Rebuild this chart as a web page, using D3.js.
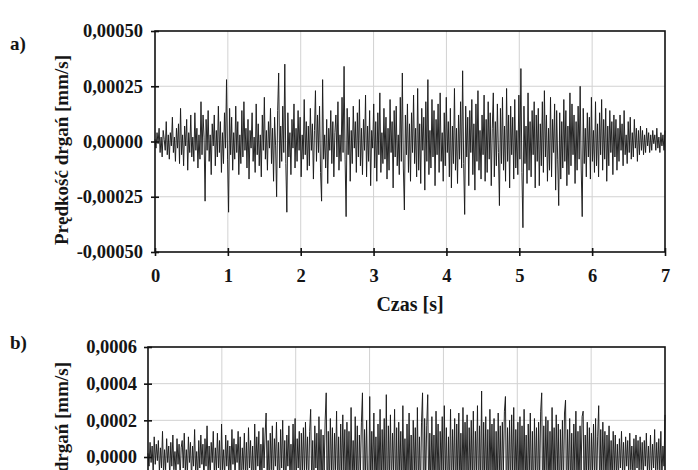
<!DOCTYPE html>
<html><head><meta charset="utf-8">
<script src="https://cdn.jsdelivr.net/npm/d3@7"></script>
<style>
body{margin:0;background:#fff}
text{font-family:"Liberation Serif","Times New Roman",serif;font-weight:bold;fill:#151515}
</style>
</head><body>
<svg id="c" width="698" height="470"></svg>
<script>
// ---- data ----
const timeRange = [0, 7];                // s
const xTicks = [0, 1, 2, 3, 4, 5, 6, 7];
const valueUnit = 1e-5;                  // values below are in 1e-5 mm/s
const velocityA = [
 1,-3,4,-1,6,-5,2,-7,5,1,-4,9,-6,3,-8,4,-2,11,-5,2,-9,6,-3,8,-10,
 15,-6,3,-11,7,-2,10,-13,4,-5,12,-7,2,-9,13,-4,6,-12,3,-8,18,-6,12,2,-27,
 10,-4,14,-9,3,-15,8,-2,12,-11,5,-7,16,-5,9,-14,4,-10,13,-3,28,-8,-32,15,-6,
 11,-13,4,-8,16,-5,9,-15,3,-10,14,-7,18,-4,6,-12,10,-17,5,-3,13,-9,2,-14,17,
 -6,8,-11,3,-16,12,-4,20,-8,5,-13,9,-3,15,-10,6,-18,11,-2,-25,14,31,-12,7,-9,
 16,-5,35,-10,-32,13,-7,4,-15,10,-3,17,-12,6,-9,14,-4,11,-16,3,-8,19,-6,9,-13,
 7,-11,15,-4,8,-17,5,23,-9,12,-5,16,-14,-27,28,-8,3,-12,10,-19,6,-4,14,-10,9,
 -16,4,12,-7,18,-13,3,-9,20,-5,34,-8,-34,15,-6,11,-18,5,-10,16,-3,9,-14,13,-7,
 19,-11,6,-15,10,-4,21,-16,7,-9,14,-20,5,-3,17,-12,9,-18,13,-6,22,-14,4,-10,15,
 -8,11,-17,6,-13,19,-5,9,-21,14,-7,16,-11,3,-15,20,-9,31,-12,-31,12,-6,17,-14,8,
 -18,13,-5,21,-10,6,-16,24,-13,8,-19,15,-4,11,-22,18,-9,28,-15,5,-12,19,-7,14,-20,
 10,-6,17,-14,22,-9,4,-18,13,-11,20,-5,9,-16,15,-21,7,-10,24,-13,6,-19,12,-8,18,
 -12,32,-10,-33,16,-7,11,-20,14,-5,19,-15,8,-22,17,-9,23,-13,5,-17,12,-6,21,-18,10,
 -14,18,-8,13,-20,6,22,-16,9,-11,17,-5,-29,15,-10,20,-13,7,-18,24,-9,12,-21,16,-6,
 11,-17,19,-12,5,-15,21,-8,33,-14,-39,16,-10,7,-19,22,-13,9,-16,14,-6,18,-21,12,-9,
 15,-20,8,-11,18,-14,23,-7,12,-18,6,-13,20,-16,10,-5,17,-22,14,-8,-29,13,-17,9,-12,
 19,-9,14,-20,7,-15,22,-11,17,-6,12,-19,9,-13,16,-8,25,-12,-34,15,-10,6,-16,13,-7,
 11,-17,20,-9,5,-14,18,-11,8,-16,13,-6,19,-13,10,-8,15,-18,7,-11,14,-5,9,-15,12,
 -7,10,-13,6,-9,12,-4,8,-11,14,-6,3,-10,9,-5,11,-8,4,-7,10,-3,6,-9,5,-6,
 7,-4,5,-6,3,-5,6,-2,4,-5,3,-4,5,-1,3,-4,6,-3,2,-5,4,-2,3,-4,5
];
const velocityB = [
 2,-5,8,-3,6,-9,11,-4,7,-2,9,-8,5,-6,14,-10,4,-7,10,-3,6,-11,8,-5,12,
 -7,3,-9,10,-4,7,-12,5,9,-6,13,-8,4,-10,11,-3,8,-13,6,-5,15,-9,3,-11,9,
 -6,12,-4,7,-14,10,-5,17,-9,6,-12,8,-3,14,-10,5,-8,13,-6,9,-15,18,-7,4,-11,
 12,-5,9,-13,6,-8,15,-4,10,-12,7,-3,14,-9,11,-16,5,-7,13,-10,8,-14,16,-6,9,
 -12,6,-15,18,-8,11,-5,14,-17,7,-10,16,-6,12,24,-11,9,-18,13,-7,17,-14,10,-5,19,
 -12,8,-16,15,-6,20,-13,9,-19,12,-5,17,-15,7,-11,18,-9,21,-16,10,-6,14,-20,13,-8,
 16,-12,19,-7,11,-18,14,26,-15,9,-21,17,-6,13,-19,22,-10,15,-24,12,-8,20,35,-27,14,
 -18,21,-9,16,-22,13,-7,25,-16,11,-20,18,-12,23,-8,15,-25,19,-10,14,-21,27,-13,9,-17,
 22,-14,17,-23,12,-8,19,35,-26,15,-11,20,-16,-22,33,-19,14,-9,24,-17,11,-21,18,-13,26,
 -20,15,-10,21,-24,34,-28,17,-12,23,-18,13,-8,26,-21,16,-25,19,-11,14,-20,28,-15,10,-22,
 18,-13,24,-19,12,-26,20,-9,16,-23,27,-15,11,-20,19,35,-29,21,-14,17,34,-27,13,-18,22,
 -16,12,-21,25,-10,18,-24,14,-8,22,-19,28,-13,16,-23,11,-17,26,-20,15,-9,21,-25,18,-12,
 24,-18,13,-22,27,-14,19,-10,23,-26,16,-12,20,-17,25,-21,14,-9,28,-23,17,-15,36,-30,19,
 -13,22,-19,15,-24,26,-11,18,-16,21,-27,14,-20,24,-12,17,-22,19,-8,25,33,-28,16,-14,20,
 -18,23,-12,27,-21,15,-9,19,-25,22,-14,17,-20,26,-16,12,-23,18,-11,24,-19,14,-26,21,-10,
 16,-22,19,-13,25,35,-30,17,-15,22,-11,20,-24,14,-18,27,-12,16,-21,23,-9,18,-25,15,-13,
 20,-17,24,31,-26,15,-12,21,-19,13,-22,18,-10,25,-16,14,-20,17,-8,22,25,-23,12,-15,19,
 -11,16,-20,13,-9,18,-14,21,-17,11,28,-22,15,-12,19,-8,14,-18,12,-10,17,-13,9,-15,14,
 -8,12,-11,7,-13,10,-6,14,-9,8,-12,11,-5,9,-10,13,-7,6,-11,10,-8,12,-6,9,-10,
 11,-7,8,-12,9,-5,13,-8,6,-10,12,-9,7,-6,15,-11,8,-7,10,-9,14,-12,6,-5,23
];
const yTicksA = [-0.0005, -0.00025, 0, 0.00025, 0.0005];
const yTicksB = [-0.0006, -0.0004, -0.0002, 0, 0.0002, 0.0004, 0.0006];
const panelNames = ["a)", "b)"];
const yTitle = "Prędkość drgań [mm/s]";
const xTitle = "Czas [s]";

// ---- drawing ----
const W = 698, H = 470;
const svg = d3.select("#c");
svg.append("rect").attr("width",W).attr("height",H).attr("fill","#fff");
const loc = d3.formatLocale({decimal:",", thousands:" ", grouping:[3], currency:["",""], minus:"-"});

function panel(cfg){
  const x = d3.scaleLinear().domain(timeRange).range([cfg.left, cfg.right]);
  const y = d3.scaleLinear().domain(cfg.yDomain).range([cfg.bottom, cfg.top]);
  const g = svg.append("g");
  // grid
  g.append("g").selectAll("line").data(xTicks.slice(1,-1)).join("line")
    .attr("x1",d=>x(d)).attr("x2",d=>x(d)).attr("y1",cfg.top).attr("y2",cfg.bottom)
    .attr("stroke","#d2d2d2").attr("stroke-width",1);
  g.append("g").selectAll("line").data(cfg.yTicks.slice(1,-1)).join("line")
    .attr("x1",cfg.left).attr("x2",cfg.right).attr("y1",d=>y(d)).attr("y2",d=>y(d))
    .attr("stroke","#d2d2d2").attr("stroke-width",1);
  // signal
  const n = cfg.values.length;
  const pts = cfg.values.map((v,i)=>[timeRange[0] + i*(timeRange[1]-timeRange[0])/(n-1), v*valueUnit]);
  g.append("path").datum(pts)
    .attr("d", d3.line().x(d=>x(d[0])).y(d=>y(d[1])))
    .attr("fill","none").attr("stroke","#1a1a1a").attr("stroke-width",0.95).attr("stroke-linejoin","round");
  // frame
  g.append("rect").attr("x",cfg.left).attr("y",cfg.top)
    .attr("width",cfg.right-cfg.left).attr("height",cfg.bottom-cfg.top)
    .attr("fill","none").attr("stroke","#111").attr("stroke-width",1.6);
  // axes (only ticks that land inside the window)
  const visY = cfg.yTicks.filter(d=>y(d) < H - 8);
  const ya = g.append("g").attr("transform",`translate(${cfg.left},0)`)
    .call(d3.axisLeft(y).tickValues(visY).tickFormat(loc.format(cfg.fmt)).tickSize(4).tickPadding(cfg.yPad));
  ya.select(".domain").remove();
  ya.selectAll(".tick line").attr("x1",4).attr("x2",-4).attr("stroke","#111").attr("stroke-width",1.6);
  ya.selectAll(".tick text").attr("font-size",18.5).attr("font-family",null);
  if (cfg.bottom < H) {
    const xa = g.append("g").attr("transform",`translate(0,${cfg.bottom})`)
      .call(d3.axisBottom(x).tickValues(xTicks).tickFormat(d3.format("d")).tickSize(4).tickPadding(13));
    xa.select(".domain").remove();
    xa.selectAll(".tick line").attr("y1",-4).attr("y2",4).attr("stroke","#111").attr("stroke-width",1.6);
    xa.selectAll(".tick text").attr("font-size",18.5).attr("font-family",null);
    svg.append("text").attr("x",(cfg.left+cfg.right)/2).attr("y",cfg.bottom+59)
      .attr("text-anchor","middle").attr("font-size",20).text(xTitle);
  }
  // titles
  svg.append("text").attr("transform",`translate(68,${cfg.yTitleY}) rotate(-90)`)
    .attr("text-anchor","middle").attr("font-size",19).text(yTitle);
  svg.append("text").attr("x",cfg.nameX).attr("y",cfg.nameY).attr("font-size",19).text(cfg.name);
}

panel({left:155,right:665,top:31,bottom:252,yDomain:[-0.0005,0.0005],yTicks:yTicksA,fmt:".5f",
  yPad:8,values:velocityA,yTitleY:150,name:panelNames[0],nameX:10,nameY:50});
panel({left:148,right:665,top:347,bottom:567,yDomain:[-0.0006,0.0006],yTicks:yTicksB,fmt:".4f",
  yPad:7,values:velocityB,yTitleY:457,name:panelNames[1],nameX:10,nameY:349});
</script>
</body></html>
